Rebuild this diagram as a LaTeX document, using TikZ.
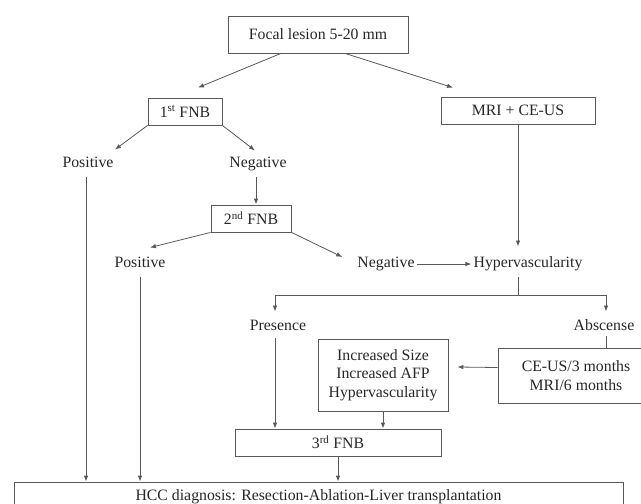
\documentclass[tikz,border=0pt]{standalone}
\usepackage{fontspec}
\setmainfont{Liberation Serif}
\usetikzlibrary{arrows.meta}

\begin{document}
\begin{tikzpicture}[x=1pt, y=-1pt, >={Latex[length=6pt,width=4.5pt]},
      every node/.append style={font=\fontsize{15.8}{18.5}\selectfont, text=black!85}]
    \tikzstyle{word} = [text height=11pt, text depth=3.5pt, inner sep=2pt]
    \tikzstyle{box} = [draw=black!65, line width=0.8pt, align=center, inner sep=2pt]
    \tikzstyle{link} = [->, draw=black!65, line width=0.8pt]
    \tikzstyle{plain} = [draw=black!65, line width=0.8pt]
    \useasboundingbox (0,0) rectangle (641,504);
    \clip (0,0) rectangle (641,504);
    \node (focal) [box, minimum width=180pt, minimum height=37pt] at (318,34.5) {Focal lesion 5-20 mm};
    \node (first) [box, minimum width=74pt, minimum height=27pt] at (185,111.5) {1\textsuperscript{st} FNB};
    \node (mri) [box, minimum width=154pt, minimum height=27pt] at (518,110.5) {MRI + CE-US};
    \node (posfirst) [word] at (88,164) {Positive};
    \node (negfirst) [word] at (258,164) {Negative};
    \node (second) [box, minimum width=80pt, minimum height=27pt] at (251,218.5) {2\textsuperscript{nd} FNB};
    \node (possecond) [word] at (140,264) {Positive};
    \node (negsecond) [word] at (386,264) {Negative};
    \node (hyper) [word] at (528,264) {Hypervascularity};
    \node (presence) [word] at (278,327) {Presence};
    \node (absence) [word] at (604,327) {Abscense};
    \node (increased) [box, minimum width=130pt, minimum height=72pt] at (383,375) {Increased Size\\Increased AFP\\Hypervascularity};
    \node (ceus) [box, minimum width=156pt, minimum height=55pt] at (576,375.5) {CE-US/3 months\\MRI/6 months};
    \node (third) [box, minimum width=206pt, minimum height=27pt] at (338,442.5) {3\textsuperscript{rd} FNB};
    \node (hcc) [box, minimum width=609pt, minimum height=30pt] at (318.5,497) {HCC diagnosis: Resection-Ablation-Liver transplantation};
    \coordinate (fork) at (518,295);
    \draw [link] ([xshift=-37pt]focal.south) -- ([xshift=13pt,yshift=10pt]first.north);
    \draw [link] ([xshift=27pt]focal.south) -- ([xshift=-65pt,yshift=9pt]mri.north);
    \draw [link] (first.south west) -- ([xshift=27pt,yshift=5pt]posfirst.north);
    \draw [link] (first.south east) -- ([xshift=-3pt,yshift=4pt]negfirst.north);
    \draw [link, shorten <=4pt] ([xshift=-2pt]negfirst.south) -- ([xshift=-2pt]negfirst.south |- second.north);
    \draw [link] (second.south west) -- ([xshift=10pt,yshift=7pt]possecond.north);
    \draw [link] (second.south east) -- ([xshift=-13pt,yshift=7pt]negsecond.west);
    \draw [link] (negsecond.east) -- (hyper.west);
    \draw [link] (mri.south) -- ([yshift=8pt]mri.south |- hyper.north);
    \draw [plain, shorten <=4pt] (fork |- hyper.south) -- (fork);
    \draw [link] (fork) -| ([xshift=-3pt,yshift=6pt]presence.north);
    \draw [link] (fork) -| ([xshift=2pt,yshift=6pt]absence.north);
    \draw [plain] ([xshift=2pt]absence.south) -- ([xshift=2pt]absence.south |- ceus.north);
    \draw [link] ([yshift=8pt]ceus.west) -- ([xshift=9pt,yshift=8pt]increased.east);
    \draw [link, shorten <=2pt] ([xshift=-3pt]presence.south) -- ([xshift=-3pt]presence.south |- third.north);
    \draw [link] (increased.south) -- (increased.south |- third.north);
    \draw [link] (third.south) -- (third.south |- hcc.north);
    \draw [link, shorten <=4pt] ([xshift=-2pt]posfirst.south) -- ([xshift=-2pt]posfirst.south |- hcc.north);
    \draw [link, shorten <=4pt] (possecond.south) -- (possecond.south |- hcc.north);
\end{tikzpicture}
\end{document}
